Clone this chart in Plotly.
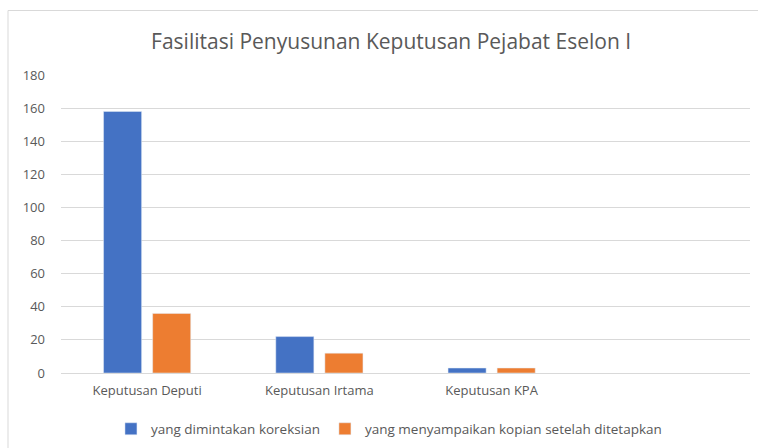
import plotly.graph_objects as go

categories = ["Keputusan Deputi", "Keputusan Irtama", "Keputusan KPA"]
series_names = ["yang dimintakan koreksian", "yang menyampaikan kopian setelah ditetapkan"]
koreksian = [158, 22, 3]
kopian = [36, 12, 3]
y_ticks = [0, 20, 40, 60, 80, 100, 120, 140, 160, 180]

W, H = 758, 448
ml, mr, mt, mb = 61, 8, 75, 75
pw, ph = W - ml - mr, H - mt - mb

fig = go.Figure()
fig.add_trace(go.Bar(x=categories, y=koreksian, name=series_names[0], marker_color="#4472C4"))
fig.add_trace(go.Bar(x=categories, y=kopian, name=series_names[1], marker_color="#ED7D31"))

font_family = "Open Sans, Carlito, Liberation Sans, sans-serif"
fig.update_layout(
    width=W, height=H,
    margin=dict(l=ml, r=mr, t=mt, b=mb, autoexpand=False),
    paper_bgcolor="white", plot_bgcolor="white",
    barmode="group", bargap=0.43, bargroupgap=0.2245,
    title=dict(text="Fasilitasi Penyusunan Keputusan Pejabat Eselon I",
               x=0.516, xanchor="center", y=1 - 42 / H, yanchor="middle",
               font=dict(family=font_family, size=21, color="#595959")),
    xaxis=dict(range=[-0.5, 3.5], showgrid=False, showline=False, ticks="",
               ticklabelstandoff=8, automargin=False,
               tickfont=dict(family=font_family, size=13, color="#595959")),
    yaxis=dict(range=[0, 180], tickvals=y_ticks, showgrid=True, gridcolor="#d9d9d9",
               gridwidth=1, zeroline=True, zerolinecolor="#d9d9d9", zerolinewidth=1,
               showline=False, ticks="", ticklabelstandoff=15, automargin=False,
               tickfont=dict(family=font_family, size=13, color="#595959")),
    legend=dict(orientation="h", x=0.476, xanchor="center", y=(373 - 429) / ph, yanchor="middle",
                font=dict(family=font_family, size=13.5, color="#595959"),
                itemwidth=30, tracegroupgap=0),
    showlegend=True,
)

fig.add_shape(type="rect", xref="paper", yref="paper",
              x0=(8 - ml) / pw, x1=(W + 5 - ml) / pw,
              y0=(373 - H - 5) / ph, y1=(373 - 10.5) / ph,
              line=dict(color="#d9d9d9", width=1), fillcolor="rgba(0,0,0,0)", layer="below")

fig.write_html("out.html", config={"displayModeBar": False},
               post_script="document.body.style.margin='0';")
